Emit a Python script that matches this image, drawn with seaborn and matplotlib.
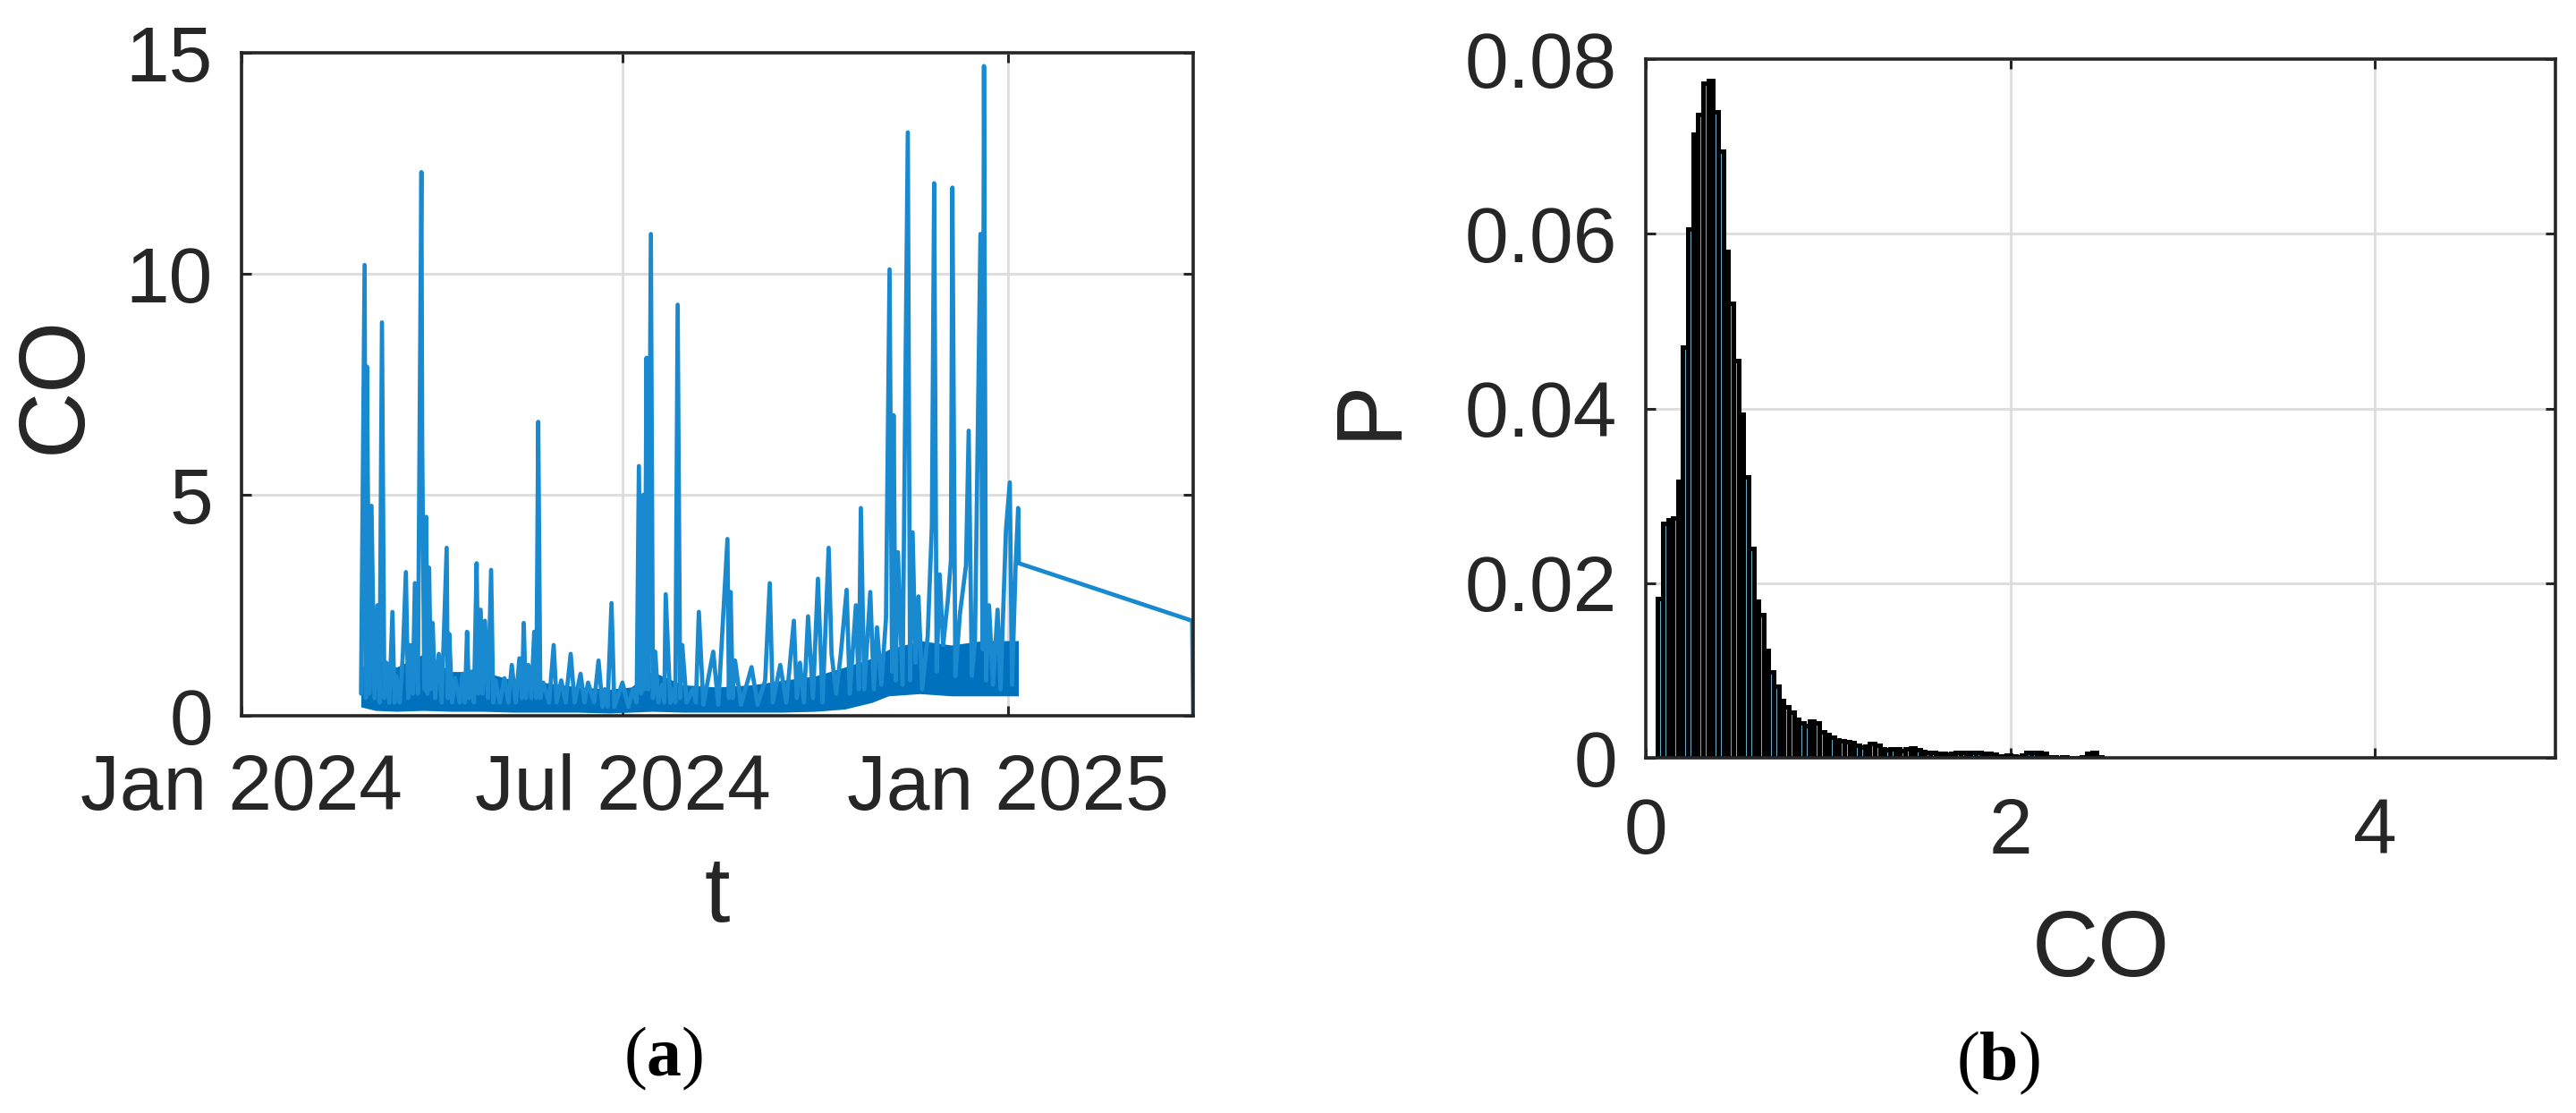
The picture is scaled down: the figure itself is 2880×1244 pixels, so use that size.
import matplotlib
matplotlib.use("Agg")
import matplotlib.pyplot as plt
import numpy as np
import pandas as pd
import seaborn as sns

# ---- (a) CO time series: peaks and troughs ----
ts_times = [
    "2024-02-27 02:00", "2024-02-28 19:00", "2024-02-29 10:00", "2024-02-29 22:00",
    "2024-03-02 02:00", "2024-03-03 02:00", "2024-03-04 12:00", "2024-03-05 22:00",
    "2024-03-06 22:00", "2024-03-08 02:00", "2024-03-09 05:00", "2024-03-10 05:00",
    "2024-03-11 14:00", "2024-03-13 02:00", "2024-03-14 02:00", "2024-03-14 22:00",
    "2024-03-16 14:00", "2024-03-18 02:00", "2024-03-19 12:00", "2024-03-20 14:00",
    "2024-03-21 14:00", "2024-03-22 19:00", "2024-03-23 19:00", "2024-03-25 05:00",
    "2024-03-26 22:00", "2024-03-27 07:00", "2024-03-28 07:00", "2024-03-29 05:00",
    "2024-03-29 19:00", "2024-03-30 14:00", "2024-03-31 12:00", "2024-04-01 07:00",
    "2024-04-02 12:00", "2024-04-04 05:00", "2024-04-05 14:00", "2024-04-08 00:00",
    "2024-04-08 12:00", "2024-04-09 05:00", "2024-04-10 14:00", "2024-04-12 00:00",
    "2024-04-14 05:00", "2024-04-15 14:00", "2024-04-16 17:00", "2024-04-17 17:00",
    "2024-04-18 17:00", "2024-04-19 22:00", "2024-04-21 00:00", "2024-04-22 07:00",
    "2024-04-23 02:00", "2024-04-24 05:00", "2024-04-25 05:00", "2024-04-26 07:00",
    "2024-04-27 17:00", "2024-04-29 05:00", "2024-04-30 05:00", "2024-05-01 07:00",
    "2024-05-03 10:00", "2024-05-05 14:00", "2024-05-07 10:00", "2024-05-09 02:00",
    "2024-05-11 00:00", "2024-05-12 17:00", "2024-05-13 22:00", "2024-05-14 19:00",
    "2024-05-15 19:00", "2024-05-17 00:00", "2024-05-18 10:00", "2024-05-19 19:00",
    "2024-05-20 19:00", "2024-05-21 17:00", "2024-05-22 17:00", "2024-05-24 02:00",
    "2024-05-26 22:00", "2024-05-29 02:00", "2024-05-30 12:00", "2024-06-01 17:00",
    "2024-06-03 19:00", "2024-06-06 05:00", "2024-06-08 02:00", "2024-06-10 22:00",
    "2024-06-12 19:00", "2024-06-14 12:00", "2024-06-17 10:00", "2024-06-19 12:00",
    "2024-06-21 10:00", "2024-06-22 10:00", "2024-06-23 19:00", "2024-06-25 17:00",
    "2024-06-27 02:00", "2024-06-30 22:00", "2024-07-03 19:00", "2024-07-05 22:00",
    "2024-07-07 17:00", "2024-07-08 19:00", "2024-07-09 22:00", "2024-07-10 22:00",
    "2024-07-11 14:00", "2024-07-12 10:00", "2024-07-13 07:00", "2024-07-14 12:00",
    "2024-07-15 12:00", "2024-07-16 14:00", "2024-07-18 02:00", "2024-07-19 22:00",
    "2024-07-20 22:00", "2024-07-21 14:00", "2024-07-23 19:00", "2024-07-25 05:00",
    "2024-07-26 05:00", "2024-07-27 07:00", "2024-07-28 12:00", "2024-07-29 12:00",
    "2024-07-31 14:00", "2024-08-03 12:00", "2024-08-05 00:00", "2024-08-06 10:00",
    "2024-08-08 14:00", "2024-08-13 07:00", "2024-08-15 17:00", "2024-08-20 02:00",
    "2024-08-20 19:00", "2024-08-21 14:00", "2024-08-22 14:00", "2024-08-23 17:00",
    "2024-08-26 14:00", "2024-08-31 14:00", "2024-09-03 12:00", "2024-09-07 02:00",
    "2024-09-09 07:00", "2024-09-10 17:00", "2024-09-14 07:00", "2024-09-17 05:00",
    "2024-09-20 19:00", "2024-09-22 05:00", "2024-09-23 17:00", "2024-09-25 14:00",
    "2024-09-27 14:00", "2024-09-29 22:00", "2024-10-02 07:00", "2024-10-04 12:00",
    "2024-10-07 10:00", "2024-10-08 19:00", "2024-10-11 00:00", "2024-10-13 05:00",
    "2024-10-16 00:00", "2024-10-17 12:00", "2024-10-20 10:00", "2024-10-21 19:00",
    "2024-10-22 19:00", "2024-10-24 10:00", "2024-10-27 07:00", "2024-10-29 00:00",
    "2024-10-30 12:00", "2024-11-01 14:00", "2024-11-03 19:00", "2024-11-05 12:00",
    "2024-11-06 17:00", "2024-11-07 10:00", "2024-11-08 10:00", "2024-11-09 12:00",
    "2024-11-11 17:00", "2024-11-14 05:00", "2024-11-15 07:00", "2024-11-16 12:00",
    "2024-11-17 22:00", "2024-11-19 07:00", "2024-11-21 02:00", "2024-11-23 17:00",
    "2024-11-25 17:00", "2024-11-26 19:00", "2024-11-28 00:00", "2024-11-29 10:00",
    "2024-12-01 02:00", "2024-12-03 07:00", "2024-12-04 19:00", "2024-12-05 12:00",
    "2024-12-06 22:00", "2024-12-09 02:00", "2024-12-12 00:00", "2024-12-13 07:00",
    "2024-12-14 19:00", "2024-12-16 07:00", "2024-12-18 22:00", "2024-12-19 22:00",
    "2024-12-20 14:00", "2024-12-21 14:00", "2024-12-23 00:00", "2024-12-24 22:00",
    "2024-12-27 02:00", "2024-12-28 12:00", "2024-12-31 02:00", "2025-01-01 22:00",
    "2025-01-03 00:00", "2025-01-04 17:00", "2025-01-05 22:00", "2025-01-06 06:00",
    "2025-03-30 00:00", "2025-03-30 12:00",
]
ts_co = [
    0.5, 10.2, 0.4, 7.9,
    0.5, 4.75, 0.4, 2.5,
    0.3, 8.9, 0.4, 1.2,
    0.3, 2.35, 0.3, 0.9,
    0.3, 1.4, 3.25, 0.4,
    1.6, 0.5, 3.0, 0.5,
    12.3, 6.2, 0.6, 4.5,
    0.5, 3.35, 0.6, 2.1,
    0.4, 1.4, 0.3, 3.8,
    0.4, 1.85, 0.3, 0.85,
    0.3, 0.95, 0.3, 1.9,
    0.4, 1.0, 0.3, 3.45,
    0.5, 2.4, 0.5, 2.15,
    0.4, 3.3, 0.3, 0.8,
    0.3, 0.85, 0.3, 1.15,
    0.3, 1.3, 0.4, 2.1,
    0.4, 1.15, 0.4, 1.9,
    0.4, 6.65, 0.4, 0.75,
    0.3, 1.6, 0.3, 0.8,
    0.3, 1.4, 0.3, 0.95,
    0.3, 0.75, 0.3, 1.25,
    0.2, 0.6, 0.2, 2.55,
    0.2, 0.75, 0.2, 0.6,
    0.3, 5.65, 0.5, 5.0,
    0.6, 8.1, 0.6, 10.9,
    0.4, 1.45, 0.3, 0.7,
    0.3, 2.75, 0.3, 0.6,
    0.3, 9.3, 0.4, 1.6,
    0.3, 0.6, 0.3, 2.35,
    0.25, 1.45, 0.25, 4.0,
    0.4, 2.8, 0.4, 1.25,
    0.25, 1.1, 0.25, 0.8,
    3.0, 0.3, 1.15, 0.3,
    2.15, 0.4, 1.2, 0.3,
    2.25, 0.4, 3.1, 0.3,
    3.8, 1.4, 0.5, 1.4,
    2.85, 0.5, 2.5, 0.6,
    4.7, 0.6, 2.8, 0.6,
    2.0, 0.7, 2.2, 10.1,
    1.0, 6.8, 0.8, 3.7,
    0.7, 13.2, 0.8, 4.15,
    1.2, 2.7, 0.6, 1.8,
    4.3, 12.05, 1.0, 3.2,
    1.6, 2.6, 3.5, 11.95,
    0.9, 2.3, 3.4, 6.45,
    0.9, 1.7, 10.9, 1.5,
    14.7, 0.8, 2.5, 0.7,
    2.4, 0.6, 4.2, 5.28,
    0.7, 3.4, 4.7, 3.45,
    2.15, 0.05,
]

# dense hourly band underneath the spikes (lower / upper edge)
band_times = [
    "2024-02-27", "2024-03-05", "2024-03-15", "2024-03-28", "2024-04-10",
    "2024-04-25", "2024-05-10", "2024-05-25", "2024-06-10", "2024-06-25",
    "2024-07-05", "2024-07-15", "2024-07-30", "2024-08-15", "2024-09-01",
    "2024-09-15", "2024-10-01", "2024-10-15", "2024-10-28", "2024-11-05",
    "2024-11-20", "2024-12-05", "2024-12-20", "2025-01-06",
]
band_low = [0.2, 0.12, 0.1, 0.12, 0.1, 0.1, 0.08, 0.08, 0.08, 0.06, 0.08, 0.1,
            0.08, 0.08, 0.08, 0.08, 0.1, 0.15, 0.3, 0.45, 0.5, 0.45, 0.45, 0.45]
band_high = [1.1, 1.3, 1.1, 1.4, 1.0, 1.0, 0.8, 0.75, 0.65, 0.6, 0.65, 1.0,
             0.7, 0.65, 0.7, 0.8, 0.9, 1.1, 1.3, 1.5, 1.7, 1.6, 1.7, 1.7]

date_ticks = ["2024-01-01", "2024-07-01", "2025-01-01"]
date_tick_labels = ["Jan 2024", "Jul 2024", "Jan 2025"]
date_range = ["2024-01-01", "2025-03-30 12:00"]

# ---- (b) histogram of CO, probability per bin ----
bin_start = 0.065
bin_width = 0.0277
hist_p = [
    0.0182, 0.0268, 0.0272, 0.0275, 0.0317, 0.0470, 0.0605, 0.0714, 0.0737, 0.0772,
    0.0775, 0.0740, 0.0694, 0.0580, 0.0520, 0.0455, 0.0393, 0.0322, 0.0240, 0.0179,
    0.0164, 0.0123, 0.0098, 0.0082, 0.0066, 0.0058, 0.0052, 0.0044, 0.0040, 0.0037,
    0.0042, 0.0040, 0.0030, 0.0027, 0.0024, 0.0021, 0.0019, 0.0018, 0.0017, 0.0014,
    0.0012, 0.0013, 0.0016, 0.0014, 0.0010, 0.0009, 0.0010, 0.0010, 0.0008, 0.0010,
    0.0011, 0.0009, 0.0007, 0.0006, 0.0006, 0.0005, 0.0005, 0.0004, 0.0005, 0.0006,
    0.0006, 0.0005, 0.0006, 0.0006, 0.0005, 0.0005, 0.0004, 0.0002, 0.0002, 0.0003,
    0.0002, 0.0001, 0.0003, 0.0006, 0.0006, 0.0006, 0.0005, 0.0001, 0.0001, 0.0,
    0.0001, 0.0, 0.0, 0.0, 0.0001, 0.0005, 0.0006, 0.0001,
]

sns.set_theme(style="ticks")
plt.rcParams["font.family"] = ["Liberation Sans", "DejaVu Sans"]
plt.rcParams["mathtext.fontset"] = "custom"
plt.rcParams["mathtext.rm"] = "Liberation Serif"
plt.rcParams["mathtext.bf"] = "Liberation Serif:bold"

INK = "#262626"
BLUE = "#0072BD"


def style_axes(ax, xpad, ypad):
    ax.grid(True, color="#dcdcdc", linewidth=1.0)
    ax.set_axisbelow(True)
    for s in ax.spines.values():
        s.set_visible(True)
        s.set_color(INK)
        s.set_linewidth(1.3)
    ax.tick_params(direction="in", length=4, width=1.1, top=True, right=True,
                   colors=INK, labelcolor=INK, labelsize=31.5)
    ax.tick_params(axis="x", pad=xpad)
    ax.tick_params(axis="y", pad=ypad)


fig = plt.figure(figsize=(14.4, 6.22), dpi=200)
ax1 = fig.add_axes([0.09375, 0.35691, 0.36944, 0.59566])
ax2 = fig.add_axes([0.63889, 0.31913, 0.35313, 0.62781])

# (a) time series
t = pd.to_datetime(ts_times)
tb = pd.to_datetime(band_times)
ax1.fill_between(tb, band_low, band_high, color=BLUE, linewidth=0)
sns.lineplot(x=t, y=ts_co, ax=ax1, color="#1a8ad0", linewidth=1.7, estimator=None)
ax1.set_xlim(pd.to_datetime(date_range[0]), pd.to_datetime(date_range[1]))
ax1.set_ylim(0, 15)
ax1.set_yticks([0, 5, 10, 15])
ax1.set_xticks(pd.to_datetime(date_ticks))
ax1.set_xticklabels(date_tick_labels)
style_axes(ax1, xpad=15, ypad=11.5)
ax1.set_ylabel("CO", fontsize=37, color=INK, va="center")
ax1.yaxis.set_label_coords(-0.1945, 0.5)
ax1.set_xlabel("t", fontsize=37, color=INK, va="center")
ax1.xaxis.set_label_coords(0.5, -0.275)

# (b) histogram
edges = (bin_start + bin_width * np.arange(len(hist_p) + 1)).tolist()
hist_df = pd.DataFrame({"co": [e + bin_width / 2 for e in edges[:-1]], "p": hist_p})
sns.histplot(data=hist_df, x="co", weights="p", bins=edges, stat="count", ax=ax2,
             color="#66AAC6", edgecolor="black", linewidth=1.8, alpha=1)
ax2.set_xlim(0, 4.99)
ax2.set_ylim(0, 0.08)
ax2.set_xticks([0, 2, 4])
ax2.set_yticks([0, 0.02, 0.04, 0.06, 0.08])
ax2.set_yticklabels(["0", "0.02", "0.04", "0.06", "0.08"])
style_axes(ax2, xpad=16, ypad=11.5)
ax2.set_ylabel("P", fontsize=37, color=INK, va="center")
ax2.yaxis.set_label_coords(-0.302, 0.5)
ax2.set_xlabel("CO", fontsize=37, color=INK, va="center")
ax2.xaxis.set_label_coords(0.5, -0.278)

# panel captions
fig.text(0.2576, 0.049, r"($\mathbf{a}$)", fontsize=28, family="Liberation Serif",
         ha="center", va="center", color="black")
fig.text(0.7757, 0.045, r"($\mathbf{b}$)", fontsize=28, family="Liberation Serif",
         ha="center", va="center", color="black")

fig.savefig("out.png", dpi=200)
